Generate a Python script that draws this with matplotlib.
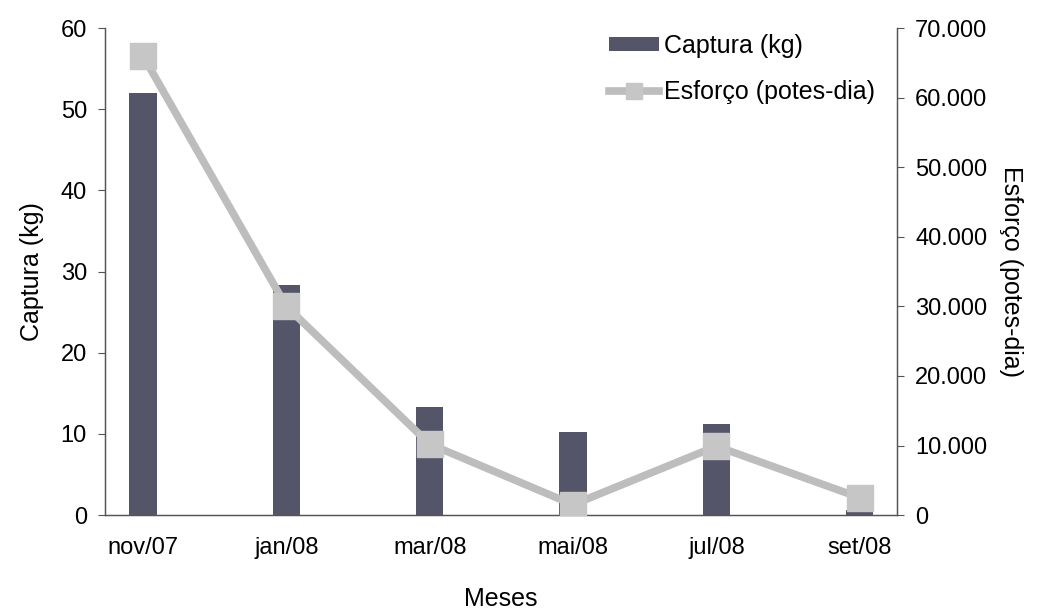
import matplotlib.pyplot as plt
import matplotlib.ticker as mticker
import numpy as np

# Dados mensais
meses = ['nov/07', 'jan/08', 'mar/08', 'mai/08', 'jul/08', 'set/08']
captura = [52.0, 28.3, 13.3, 10.2, 11.2, 0.6]          # kg
esforco = [66000, 30000, 10200, 1500, 9900, 2500]      # potes-dia

plt.rcParams['font.family'] = ['Liberation Sans', 'DejaVu Sans']

cor_barra = '#55556a'
cor_linha = '#bdbdbd'
cor_eixo = '#555555'
fs_ticks = 17
fs_rot = 18

fig = plt.figure(figsize=(10.44, 6.11), dpi=100)
ax = fig.add_axes([0.1006, 0.157, 0.7586, 0.797])
x = np.arange(len(meses))

barras = ax.bar(x, captura, width=0.19, color=cor_barra, label='Captura (kg)', zorder=2)
ax.set_ylim(0, 60)
ax.set_xlim(-0.265, 5.26)
ax.set_yticks(range(0, 61, 10))
ax.set_xticks(x)
ax.set_xticklabels(meses)
ax.tick_params(axis='x', length=0, pad=16, labelsize=fs_ticks)
ax.tick_params(axis='y', length=5, color=cor_eixo, pad=8, labelsize=fs_ticks)
ax.set_ylabel('Captura (kg)', fontsize=fs_rot, labelpad=12)
ax.set_xlabel('Meses', fontsize=fs_rot, labelpad=20)

ax2 = ax.twinx()
linha, = ax2.plot(x, esforco, color=cor_linha, lw=5.5, marker='s', ms=19,
                  mfc='#c6c6c6', mec='#c6c6c6', label='Esforço (potes-dia)', zorder=3)
ax2.set_ylim(0, 70000)
ax2.set_yticks(range(0, 70001, 10000))
ax2.yaxis.set_major_formatter(mticker.FuncFormatter(lambda v, p: f'{int(v):,}'.replace(',', '.')))
ax2.tick_params(axis='y', length=5, color=cor_eixo, pad=8, labelsize=fs_ticks)
ax2.set_ylabel('Esforço (potes-dia)', fontsize=fs_rot, rotation=-90, labelpad=26)

for a in (ax, ax2):
    a.spines['top'].set_visible(False)
    for s in ('left', 'right', 'bottom'):
        a.spines[s].set_color(cor_eixo)
        a.spines[s].set_linewidth(0.9)

ax2.legend([barras, linha], ['Captura (kg)', 'Esforço (potes-dia)'],
           loc='upper right', bbox_to_anchor=(1.0, 1.035), frameon=False,
           fontsize=fs_rot, handlelength=2.0, handleheight=0.5,
           handletextpad=0.2, labelspacing=0.9, markerscale=0.6)

plt.savefig('out.png', dpi=100)
